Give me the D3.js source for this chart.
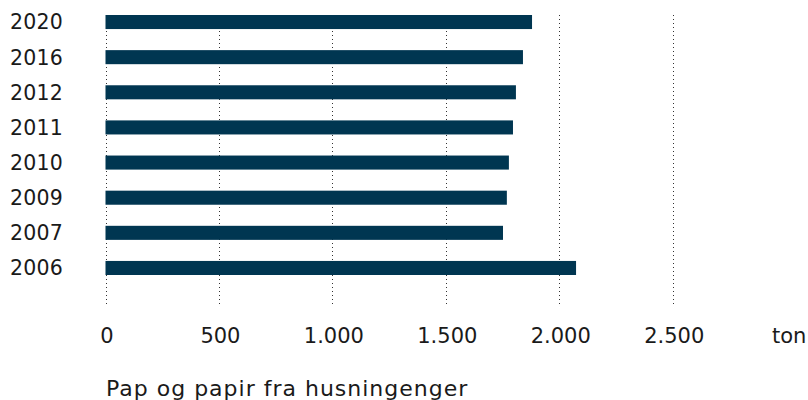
<!DOCTYPE html>
<html>
<head>
  <script src="https://d3js.org/d3.v7.min.js"></script>
  <style>
    body { margin: 0; background: #fff; }
    text { font-family: "DejaVu Sans", Verdana, sans-serif; fill: #1a1a1a; }
  </style>
</head>
<body>
  <div id="chart"></div>
  <script>
    var years = ["2020", "2016", "2012", "2011", "2010", "2009", "2007", "2006"];
    var tons = [1880, 1840, 1809, 1796, 1778, 1769, 1752, 2074];
    var tickValues = [0, 500, 1000, 1500, 2000, 2500];
    var tickLabels = ["0", "500", "1.000", "1.500", "2.000", "2.500"];
    var unitLabel = "ton";
    var title = "Pap og papir fra husningenger";

    var svg = d3.select("#chart")
                .append("svg")
                .attr("width", 808)
                .attr("height", 400);

    var xScale = d3.scaleLinear()
                   .domain([0, 2500])
                   .range([105.5, 672.7]);

    var yScale = d3.scaleBand()
                   .domain(years)
                   .range([15, 275])
                   .paddingInner(0.6)
                   .paddingOuter(0);

    // dotted gridlines
    svg.selectAll("line.grid")
       .data(tickValues)
       .enter()
       .append("line")
       .attr("class", "grid")
       .attr("x1", d => Math.round(xScale(d)) + 0.5)
       .attr("x2", d => Math.round(xScale(d)) + 0.5)
       .attr("y1", 15)
       .attr("y2", 304)
       .attr("stroke", "#333")
       .attr("stroke-width", 1)
       .attr("stroke-dasharray", "1,3");

    // bars
    svg.selectAll("rect.bar")
       .data(years)
       .enter()
       .append("rect")
       .attr("class", "bar")
       .attr("x", xScale(0))
       .attr("y", d => yScale(d))
       .attr("width", (d, i) => xScale(tons[i]) - xScale(0))
       .attr("height", yScale.bandwidth())
       .attr("fill", "#003651");

    // year labels
    svg.selectAll("text.year")
       .data(years)
       .enter()
       .append("text")
       .attr("class", "year")
       .attr("x", 10)
       .attr("y", d => yScale(d) + yScale.bandwidth() / 2)
       .attr("dy", "0.36em")
       .style("font-size", "20.5px")
       .style("letter-spacing", "0.2px")
       .text(d => d);

    // x tick labels
    svg.selectAll("text.tick")
       .data(tickValues)
       .enter()
       .append("text")
       .attr("class", "tick")
       .attr("x", d => xScale(d) + 1.5)
       .attr("y", 343)
       .style("text-anchor", "middle")
       .style("font-size", "21px")
       .text((d, i) => tickLabels[i]);

    svg.append("text")
       .attr("x", xScale(3000) + 3)
       .attr("y", 343)
       .style("text-anchor", "middle")
       .style("font-size", "21px")
       .text(unitLabel);

    svg.append("text")
       .attr("x", 106)
       .attr("y", 396)
       .style("font-size", "22px")
       .style("letter-spacing", "1px")
       .text(title);
  </script>
</body>
</html>
